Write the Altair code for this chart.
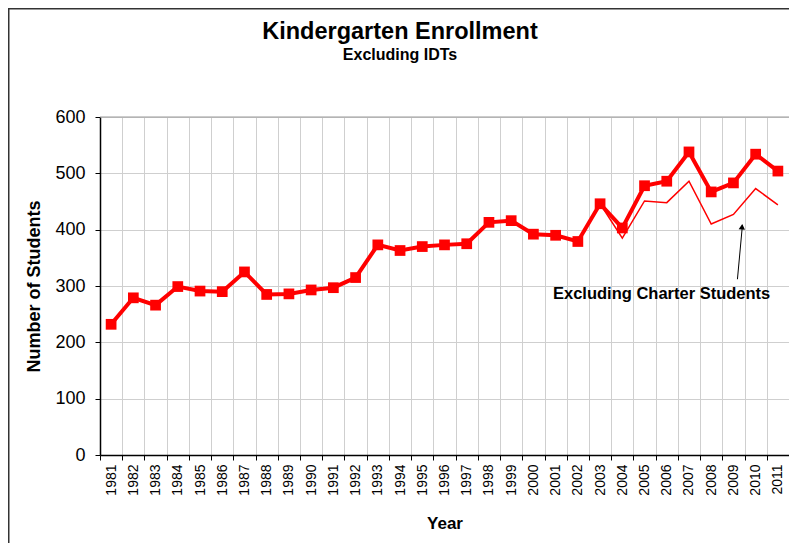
import altair as alt
import pandas as pd

# ---- data ----
years = ["1981", "1982", "1983", "1984", "1985", "1986", "1987", "1988", "1989", "1990",
         "1991", "1992", "1993", "1994", "1995", "1996", "1997", "1998", "1999", "2000",
         "2001", "2002", "2003", "2004", "2005", "2006", "2007", "2008", "2009", "2010", "2011"]
enrollment = [232, 279, 266, 299, 291, 290, 325, 285, 286, 293,
              297, 315, 373, 363, 370, 373, 375, 413, 416, 392,
              390, 379, 446, 403, 478, 486, 538, 467, 483, 534, 504]
charter_years = ["2003", "2004", "2005", "2006", "2007", "2008", "2009", "2010", "2011"]
excl_charter = [446, 385, 451, 448, 486, 410, 427, 473, 444]

chart_title = "Kindergarten Enrollment"
chart_subtitle = "Excluding IDTs"
annot_label = ["Excluding Charter Students"]
annot_year = ["2006"]
annot_value = [286]
arrow_year = ["2009"]
arrow_from = [312]
arrow_to = [408]
arrowhead_value = [405]
y_ticks = [0, 100, 200, 300, 400, 500, 600]

FONT = "Liberation Sans"
RED = "#ff0000"
W, H = 689, 338

main_df = pd.DataFrame({"Year": years, "Students": enrollment})
excl_df = pd.DataFrame({"Year": charter_years, "Students": excl_charter})
annot_df = pd.DataFrame({"Year": annot_year, "Students": annot_value, "label": annot_label})
arrow_df = pd.DataFrame({"Year": arrow_year, "y1": arrow_from, "y2": arrow_to,
                         "head": arrowhead_value})

xscale = alt.Scale(type="band", domain=years, paddingInner=0, paddingOuter=0)
yscale = alt.Scale(domain=[0, 600], nice=False)

x_axis = alt.Axis(
    tickBand="extent", labelAngle=270, labelAlign="right", labelBaseline="middle",
    labelFont=FONT, labelFontSize=14, labelColor="black", labelPadding=4,
    tickSize=5, tickColor="black", domainColor="black", domainWidth=1.5,
    gridColor="#cfcfcf", grid=True,
    titleFont=FONT, titleFontSize=17, titleFontWeight="bold", titleColor="black",
    titlePadding=20,
)
y_axis = alt.Axis(
    values=y_ticks, labelFont=FONT, labelFontSize=18, labelColor="black", labelPadding=10,
    tickSize=5, tickColor="black", domainColor="black", domainWidth=1.5,
    gridColor="#cfcfcf", grid=True,
    titleFont=FONT, titleFontSize=18, titleFontWeight="bold", titleColor="black",
    titlePadding=11,
)

X = alt.X("Year:O", scale=xscale, bandPosition=0.5, axis=x_axis, title="Year")
Y = alt.Y("Students:Q", scale=yscale, axis=y_axis, title="Number of Students")

thin = alt.Chart(excl_df).mark_line(color=RED, strokeWidth=1.5).encode(x=X, y=Y)
thick = alt.Chart(main_df).mark_line(color=RED, strokeWidth=4).encode(x=X, y=Y)
pts = alt.Chart(main_df).mark_point(shape="square", filled=True, size=115,
                                     color=RED, opacity=1).encode(x=X, y=Y)

arrow = alt.Chart(arrow_df).mark_rule(color="black", strokeWidth=1, xOffset=4, x2Offset=9).encode(
    x=alt.X("Year:O", scale=xscale, bandPosition=0.5),
    x2=alt.X2("Year", bandPosition=0.5),
    y=alt.Y("y1:Q", scale=yscale),
    y2="y2:Q",
)
head = alt.Chart(arrow_df).mark_point(shape="triangle-up", filled=True, size=40, color="black",
                                      opacity=1, angle=5, xOffset=8.6).encode(
    x=alt.X("Year:O", scale=xscale, bandPosition=0.5),
    y=alt.Y("head:Q", scale=yscale),
)
annot = alt.Chart(annot_df).mark_text(font=FONT, fontSize=16.5, fontWeight="bold", color="black",
                                      align="center", baseline="middle", dx=6).encode(
    x=alt.X("Year:O", scale=xscale, bandPosition=0),
    y=alt.Y("Students:Q", scale=yscale),
    text="label:N",
)

one = alt.Data(values=[{}])
title_mark = alt.Chart(one).mark_text(
    text=chart_title, font=FONT, fontSize=23.5, fontWeight="bold", color="black",
    align="center", baseline="middle").encode(x=alt.value(300), y=alt.value(-85))
subtitle_mark = alt.Chart(one).mark_text(
    text=chart_subtitle, font=FONT, fontSize=16, fontWeight="bold", color="black",
    align="center", baseline="middle").encode(x=alt.value(300), y=alt.value(-62))

top_border = alt.Chart(one).mark_rule(color="#999999", strokeWidth=1).encode(
    x=alt.value(0), x2=alt.value(W), y=alt.value(0))
frame_left = alt.Chart(one).mark_rule(color="#333333", strokeWidth=1.5).encode(
    x=alt.value(-91.25), y=alt.value(-109), y2=alt.value(H + 88))
frame_top = alt.Chart(one).mark_rule(color="#333333", strokeWidth=1.5).encode(
    y=alt.value(-108.25), x=alt.value(-92), x2=alt.value(W))

chart = alt.layer(frame_left, frame_top, top_border, title_mark, subtitle_mark,
                  thin, thick, pts, arrow, head, annot).properties(
    width=W, height=H,
    autosize=alt.AutoSizeParams(type="none"),
    padding={"left": 92, "top": 109, "right": 0, "bottom": 88},
    background="white",
).configure_view(stroke=None)

chart.save("out.html", embed_options={"renderer": "svg", "actions": False})
